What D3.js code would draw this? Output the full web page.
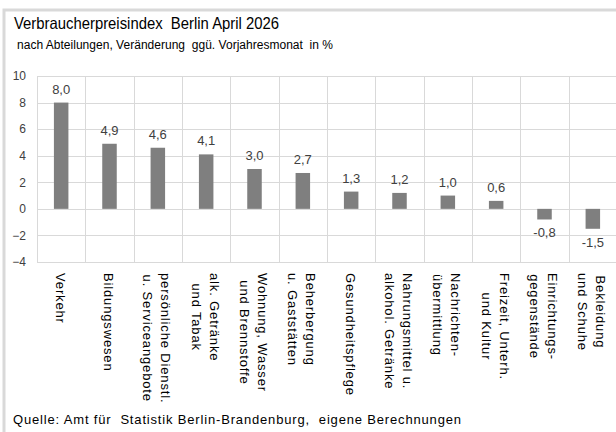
<!DOCTYPE html>
<html>
<head>
<meta charset="utf-8">
<script src="https://cdn.jsdelivr.net/npm/d3@7"></script>
<style>
  body { margin: 0; background: #fff; }
  svg { display: block; font-family: "Liberation Sans", Arial, sans-serif; }
</style>
</head>
<body>
<div id="canvas"></div>
<script>
const categories = [
  ["Verkehr"],
  ["Bildungswesen"],
  ["persönliche Dienstl.", "u. Serviceangebote"],
  ["alk. Getränke", "und Tabak"],
  ["Wohnung, Wasser", "und Brennstoffe"],
  ["Beherbergung", "u. Gaststätten"],
  ["Gesundheitspflege"],
  ["Nahrungsmittel u.", "alkohol. Getränke"],
  ["Nachrichten-", "übermittlung"],
  ["Freizeit, Unterh.", "und Kultur"],
  ["Einrichtungs-", "gegenstände"],
  ["Bekleidung", "und Schuhe"]
];
const values = [8.0, 4.9, 4.6, 4.1, 3.0, 2.7, 1.3, 1.2, 1.0, 0.6, -0.8, -1.5];
const yTicks = [-4, -2, 0, 2, 4, 6, 8, 10];

const w = 616, h = 432;
const plot = { left: 37, right: 617, top: 76, bottom: 262 };

const svg = d3.select("#canvas").append("svg")
  .attr("width", w).attr("height", h);

// outer frame
svg.append("rect")
  .attr("x", 4).attr("y", 10)
  .attr("width", 700).attr("height", 500)
  .attr("fill", "#fff")
  .attr("stroke", "#d9d9d9").attr("stroke-width", 3);

// titles
svg.append("text").attr("x", 14).attr("y", 29)
  .attr("font-size", 16.5).attr("fill", "#000")
  .attr("textLength", 265).attr("lengthAdjust", "spacingAndGlyphs")
  .style("white-space", "pre")
  .text("Verbraucherpreisindex  Berlin April 2026");
svg.append("text").attr("x", 17).attr("y", 49)
  .attr("font-size", 12).attr("fill", "#000")
  .attr("textLength", 316).attr("lengthAdjust", "spacing")
  .style("white-space", "pre")
  .text("nach Abteilungen, Veränderung  ggü. Vorjahresmonat  in %");

const x = d3.scaleBand()
  .domain(d3.range(categories.length))
  .range([plot.left, plot.right])
  .padding(0);

const y = d3.scaleLinear()
  .domain([-4, 10])
  .range([plot.bottom, plot.top]);

const grid = svg.append("g").attr("stroke", "#d9d9d9").attr("stroke-width", 1);

grid.selectAll("line.h")
  .data(yTicks)
  .enter().append("line")
    .attr("x1", plot.left).attr("x2", plot.right)
    .attr("y1", d => Math.round(y(d)) + 0.5)
    .attr("y2", d => Math.round(y(d)) + 0.5);

grid.selectAll("line.v")
  .data(d3.range(categories.length + 1))
  .enter().append("line")
    .attr("x1", d => Math.round(plot.left + d * x.bandwidth()) + 0.5)
    .attr("x2", d => Math.round(plot.left + d * x.bandwidth()) + 0.5)
    .attr("y1", plot.top).attr("y2", plot.bottom);

// y axis labels
const yAxis = d3.axisLeft(y).tickValues(yTicks).tickSize(0).tickPadding(0);
const yg = svg.append("g")
  .attr("transform", "translate(26,0)")
  .call(yAxis);
yg.select(".domain").remove();
yg.selectAll("text")
  .attr("font-size", 12)
  .attr("font-family", "Liberation Sans, Arial, sans-serif")
  .attr("fill", "#404040");

// bars
const barW = x.bandwidth() * 0.3;
svg.append("g").selectAll("rect")
  .data(values)
  .enter().append("rect")
    .attr("x", (d, i) => x(i) + (x.bandwidth() - barW) / 2)
    .attr("y", d => y(Math.max(0, d)))
    .attr("width", barW)
    .attr("height", d => Math.abs(y(d) - y(0)))
    .attr("fill", "#7f7f7f");

// value labels
const fmt = d => d.toFixed(1).replace(".", ",");
svg.append("g").selectAll("text")
  .data(values)
  .enter().append("text")
    .attr("x", (d, i) => x(i) + x.bandwidth() / 2)
    .attr("y", d => d >= 0 ? y(d) - 9 : y(d) + 18)
    .attr("text-anchor", "middle")
    .attr("font-size", 13)
    .attr("fill", "#404040")
    .text(fmt);

// category labels, rotated
const lh = 18;
const catG = svg.append("g").selectAll("g")
  .data(categories)
  .enter().append("g")
    .attr("transform", (d, i) => "translate(" + (x(i) + x.bandwidth() / 2 - 1) + ",273) rotate(90)");

catG.each(function(lines) {
  const g = d3.select(this);
  const n = lines.length;
  const texts = g.selectAll("text")
    .data(lines)
    .enter().append("text")
      .attr("y", (d, j) => (j - (n - 1) / 2) * lh + 4.5)
      .attr("font-size", 13)
      .attr("letter-spacing", 0.85)
      .attr("fill", "#000")
      .style("white-space", "pre")
      .text(d => d);
  let maxLen = 0;
  texts.each(function() { maxLen = Math.max(maxLen, this.getComputedTextLength()); });
  texts.attr("x", maxLen / 2).attr("text-anchor", "middle");
});

// source
svg.append("text").attr("x", 13).attr("y", 424)
  .attr("font-size", 13).attr("fill", "#000")
  .attr("textLength", 448).attr("lengthAdjust", "spacing")
  .style("white-space", "pre")
  .text("Quelle: Amt für  Statistik Berlin-Brandenburg,  eigene Berechnungen");
</script>
</body>
</html>
